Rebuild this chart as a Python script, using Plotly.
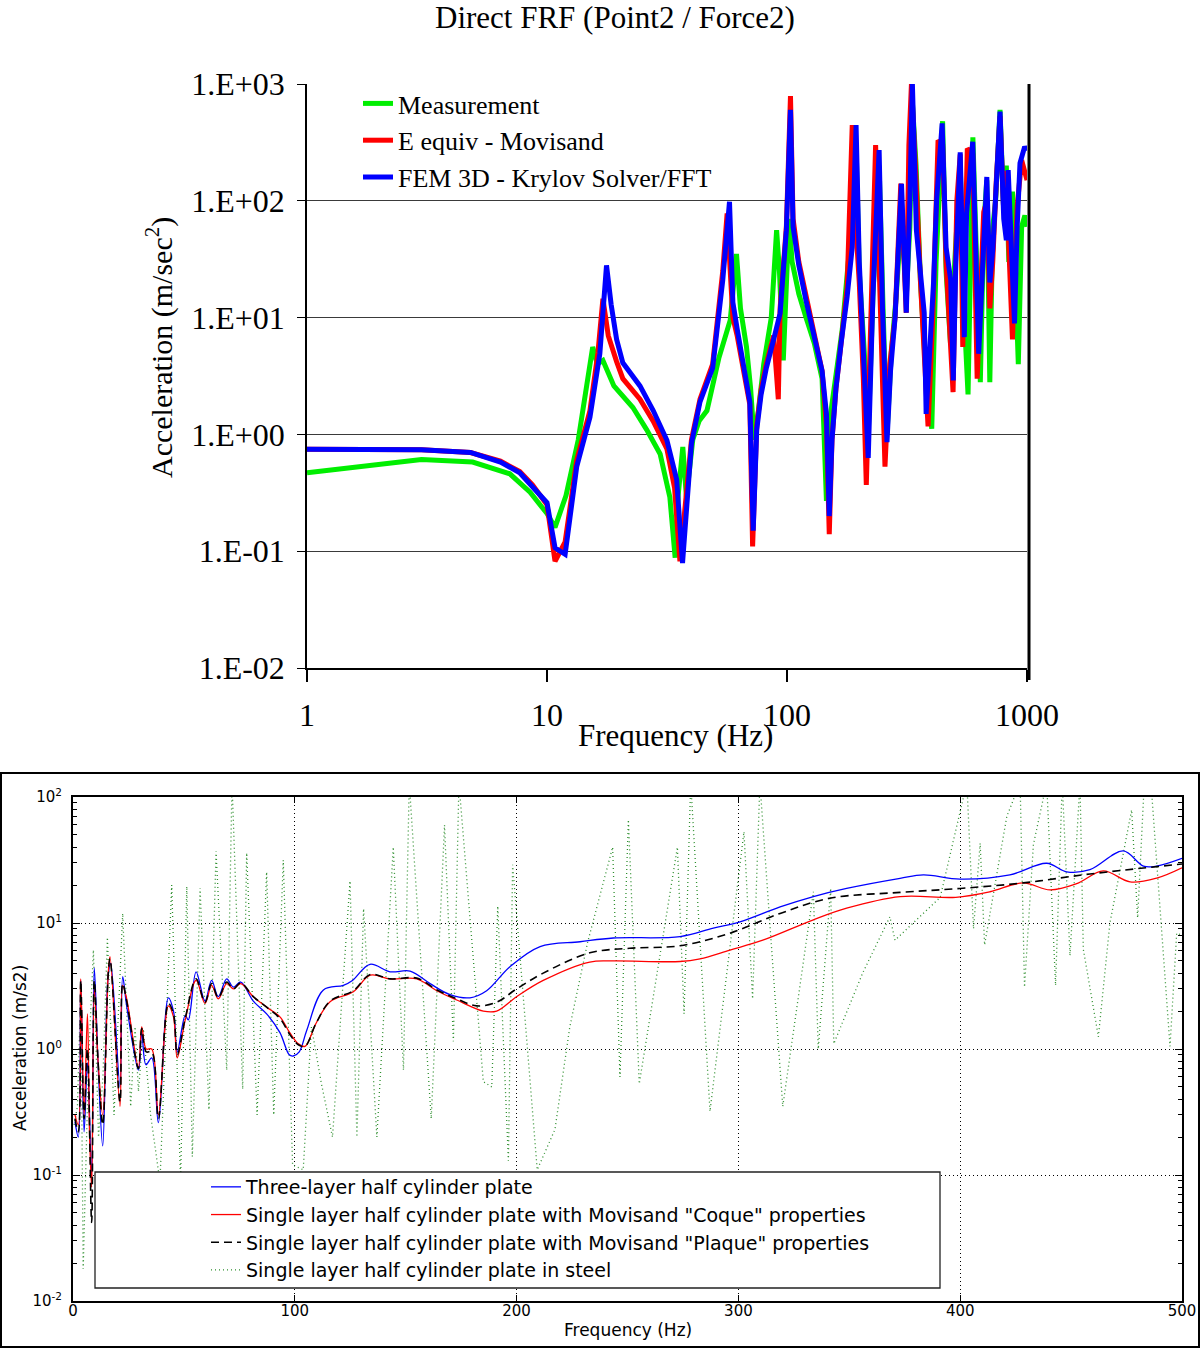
import plotly.graph_objects as go

# ---------------- Top chart: Direct FRF (Point2 / Force2) ----------------
meas_freq = [1, 2.0, 3.0, 4.9, 7.0, 8.5, 10.0, 10.8, 12.0, 13.5, 15.5, 16.2, 17.1, 19.0, 22.8, 26.0,
             29.6, 32.5, 34.2, 35.2, 36.8, 38.1, 40.5, 43.0, 46.4, 52.0, 58.0, 61.6, 64.0, 67.8,
             70.5, 73.0, 76.0, 80.0, 86.0, 90.5, 93.0, 96.5, 99.0, 102.0, 105.0, 112.0, 120.0,
             130.0, 140.0, 146.0, 152.0, 160.0, 170.0, 180.0, 190.0, 194.0, 200.0, 210.0, 218.0,
             228.0, 242.0, 252.0, 261.0, 272.0, 285.0, 300.0, 314.0, 325.0, 333.0, 345.0, 360.0,
             380.0, 401.0, 418.0, 445.0, 460.0, 480.0, 500.0, 527.0, 548.0, 568.0, 595.0, 615.0,
             639.0, 660.0, 680.0, 700.0, 720.0, 740.0, 772.0, 800.0, 820.0, 840.0, 870.0, 920.0,
             950.0, 980.0, 1000.0]
meas_acc = [0.47, 0.55, 0.61, 0.58, 0.46, 0.32, 0.21, 0.16, 0.3, 0.9, 5.6, 4.0, 4.3, 2.6, 1.7, 1.1,
            0.68, 0.29, 0.088, 0.3, 0.78, 0.29, 0.9, 1.3, 1.6, 4.5, 9.5, 35, 12, 5.6,
            2.5, 0.9, 1.6, 4.0, 10, 56, 25, 4.3, 20, 70, 30, 16, 10,
            6, 3, 0.27, 1.5, 3, 8, 30, 60, 300, 25, 5, 1.0,
            15, 200, 10, 1.0, 5, 15, 80, 15, 60, 700, 200, 20,
            3, 1.12, 30, 480, 25, 6, 30, 200, 10, 2.2, 350, 30,
            2.8, 60, 150, 2.8, 60, 100, 600, 80, 200, 30, 120, 4.0,
            60, 75, 60]

equiv_freq = [1, 1.7, 3.0, 4.8, 6.4, 7.7, 8.7, 10.0, 10.8, 11.9, 13.3, 15.1, 16.3, 17.1, 18.0, 19.5,
              20.7, 24.4, 27.7, 31.6, 34.0, 35.8, 38.0, 40.0, 43.4, 49.0, 54.0, 56.3, 58.0, 59.5,
              62.0, 65.5, 70.0, 71.9, 74.8, 78.0, 82.0, 88.0, 92.0, 93.6, 99.4, 103.4, 106.0,
              112.0, 120.0, 130.0, 140.0, 146.0, 150.0, 154.0, 160.0, 168.0, 178.0, 187.0, 192.0,
              200.0, 208.0, 214.0, 224.0, 234.0, 245.0, 256.0, 268.0, 282.0, 298.0, 314.0, 322.0,
              330.0, 345.0, 360.0, 387.0, 405.0, 426.0, 445.0, 460.0, 475.0, 492.0, 510.0, 527.0,
              540.0, 564.0, 594.0, 620.0, 660.0, 680.0, 700.0, 720.0, 745.0, 772.0, 800.0, 820.0,
              840.0, 870.0, 910.0, 950.0, 1000.0]
equiv_acc = [0.745, 0.745, 0.74, 0.70, 0.59, 0.48, 0.37, 0.25, 0.082, 0.12, 0.6, 1.6, 5, 14.5, 7, 4.2,
             3.0, 2.0, 1.3, 0.75, 0.35, 0.082, 0.3, 0.9, 2.0, 4, 25, 78, 25, 10,
             7, 4, 1.8, 0.11, 1.2, 2.4, 4, 7, 2.0, 12, 60, 790, 70,
             30, 15, 7.5, 3.5, 1.2, 0.14, 0.9, 2.5, 6, 18, 445, 80,
             20, 3, 0.37, 12, 300, 12, 0.53, 4, 10, 140, 11, 300,
             1000, 150, 20, 1.17, 10, 330, 300, 30, 8, 2.3, 100, 250,
             5.6, 280, 250, 3.0, 80, 100, 12, 30, 150, 530, 80, 180,
             40, 6.5, 90, 223, 150]

fem_freq = [1, 1.7, 3.0, 4.8, 6.4, 7.7, 8.7, 10.0, 10.8, 11.9, 13.3, 15.1, 16.6, 17.7, 18.5, 19.5,
            20.7, 24.4, 27.7, 31.6, 34.7, 36.7, 40.0, 43.4, 49.0, 54.0, 57.6, 59.5, 62.0, 65.5,
            70.0, 72.3, 74.8, 78.0, 82.0, 88.0, 93.6, 99.4, 103.4, 106.0, 112.0, 120.0, 130.0,
            140.0, 146.0, 150.0, 154.0, 160.0, 168.0, 178.0, 187.0, 194.0, 200.0, 208.0, 218.0,
            228.0, 242.0, 250.0, 261.0, 270.0, 282.0, 300.0, 314.0, 325.0, 333.0, 346.0, 362.0,
            373.0, 380.0, 408.0, 420.0, 443.0, 460.0, 481.0, 493.0, 505.0, 527.0, 548.0, 560.0,
            594.0, 629.0, 660.0, 680.0, 700.0, 720.0, 745.0, 772.0, 800.0, 820.0, 835.0, 860.0,
            887.0, 910.0, 935.0, 978.0, 1000.0]
fem_acc = [0.745, 0.745, 0.74, 0.70, 0.58, 0.47, 0.36, 0.26, 0.107, 0.094, 0.53, 1.4, 4.9, 28, 13, 6.5,
           4.1, 2.6, 1.6, 0.89, 0.41, 0.079, 0.84, 1.9, 3.7, 21, 98, 13.5, 8, 4.3,
           1.9, 0.15, 1.1, 2.2, 3.7, 6.5, 10.9, 56, 600, 60, 28, 14, 7,
           3.5, 1.5, 0.2, 0.9, 2.5, 6, 15, 40, 445, 30, 4, 0.63,
           15, 272, 12, 0.86, 3.5, 10, 140, 11, 100, 1000, 56, 21,
           11, 1.5, 20, 100, 460, 40, 21, 2.9, 29, 260, 6.8, 78,
           320, 4.9, 56, 160, 20, 38, 140, 580, 70, 46, 183, 40,
           8.9, 60, 210, 290, 270]

top_y_tickvals = [0.01, 0.1, 1, 10, 100, 1000]
top_y_ticktext = ["1.E-02", "1.E-01", "1.E+00", "1.E+01", "1.E+02", "1.E+03"]
top_x_tickvals = [1, 10, 100, 1000]
top_x_ticktext = ["1", "10", "100", "1000"]

# ---------------- Bottom chart ----------------
three_freq = [0.9, 2.4, 3.5, 5.0, 6.5, 8.4, 9.6, 11.3, 13.4, 15.9, 17.0, 21.2, 22.4, 24.2, 29.5, 31.0,
              32.9, 35.5, 38.5, 43.0, 45.3, 47.0, 50.6, 52.0, 55.5, 59.5, 62.5, 65.5, 69.3, 72.3,
              75.6, 81.3, 87.3, 93.3, 97.5, 99.3, 102.0, 105.4, 112.9, 121.9, 126.0, 133.9, 143.0,
              152.0, 161.0, 170.0, 179.0, 186.5, 197.0, 210.6, 228.6, 243.6, 273.7, 288.7, 300.7,
              318.8, 333.8, 348.8, 372.9, 383.4, 399.9, 422.4, 439.0, 448.0, 458.5, 473.5, 482.6,
              488.6, 500.0]
three_acc = [0.265, 0.2, 3.5, 0.22, 0.78, 0.1, 4.4, 0.78, 0.17, 3.9, 4.8, 0.5, 3.75, 2.2, 0.68, 1.35,
             0.75, 0.85, 0.26, 2.55, 2.0, 0.95, 1.85, 1.7, 4.1, 2.4, 3.5, 2.6, 3.6, 3.1,
             3.4, 2.4, 1.9, 1.35, 0.9, 0.88, 0.95, 1.41, 2.94, 3.2, 3.5, 4.7, 4.1,
             4.15, 3.3, 2.7, 2.55, 2.9, 4.5, 6.5, 7.1, 7.6, 7.8, 9.1, 10.2,
             13.4, 16.2, 18.8, 22.6, 24.1, 22.3, 24.1, 29.8, 25.5, 26.5, 37.3, 28.3,
             28.3, 32.6]

coque_freq = [0.9, 2.4, 3.5, 5.0, 6.5, 7.5, 8.4, 9.6, 11.3, 13.4, 15.9, 16.7, 21.2, 22.4, 24.2, 29.5,
              31.0, 33.0, 35.5, 38.5, 43.0, 45.3, 47.0, 50.6, 55.5, 59.5, 62.5, 65.5, 69.3, 72.3,
              75.6, 81.3, 87.3, 93.3, 97.8, 101.6, 104.6, 109.6, 115.9, 126.4, 134.0, 143.0, 155.0,
              164.0, 173.0, 185.0, 191.0, 200.0, 212.0, 233.0, 243.6, 273.7, 282.7, 296.2, 311.0,
              333.8, 348.8, 372.9, 398.0, 413.4, 428.4, 440.5, 452.5, 464.5, 476.6, 488.6, 500.0]
coque_acc = [0.3, 0.25, 3.6, 0.3, 1.9, 0.2, 0.08, 3.0, 0.8, 0.3, 4.0, 5.4, 0.35, 3.2, 2.5, 0.72,
             1.5, 1.0, 1.0, 0.3, 2.2, 1.8, 0.85, 1.7, 3.5, 2.3, 3.2, 2.5, 3.3, 3.0,
             3.3, 2.6, 2.15, 1.8, 1.34, 1.1, 1.05, 1.6, 2.37, 2.85, 3.85, 3.6, 3.6,
             2.9, 2.45, 2.0, 2.0, 2.6, 3.5, 4.9, 5.0, 4.95, 5.2, 6.1, 7.3,
             10.6, 13.1, 16.2, 16.0, 17.7, 20.8, 18.3, 20.5, 25.9, 21.2, 22.7, 27.4]

plaque_freq = [0.9, 2.4, 3.5, 5.0, 6.5, 8.4, 9.6, 11.3, 13.4, 15.9, 16.7, 21.2, 22.4, 24.2, 29.5, 31.0,
               33.0, 35.5, 38.5, 43.0, 45.3, 47.0, 50.6, 55.5, 59.5, 62.5, 65.5, 69.3, 72.3, 75.6,
               81.3, 87.3, 93.3, 97.8, 101.6, 104.6, 109.6, 115.9, 126.4, 134.0, 143.0, 155.0, 164.0,
               173.0, 182.0, 191.0, 200.0, 212.0, 233.0, 251.0, 273.7, 296.2, 318.8, 341.0, 372.9,
               400.0, 428.4, 458.5, 500.0]
plaque_acc = [0.28, 0.22, 3.5, 0.28, 1.0, 0.042, 3.5, 0.8, 0.25, 4.0, 5.2, 0.38, 3.3, 2.4, 0.7, 1.45,
              0.95, 0.95, 0.28, 2.3, 1.9, 0.9, 1.75, 3.6, 2.35, 3.3, 2.55, 3.4, 3.0, 3.35,
              2.6, 2.15, 1.75, 1.3, 1.08, 1.05, 1.6, 2.4, 2.9, 3.9, 3.6, 3.65, 2.95,
              2.5, 2.2, 2.35, 3.0, 4.0, 5.8, 6.3, 6.6, 8.3, 11.9, 15.7, 17.5,
              18.8, 20.8, 24.5, 29.4]

steel_freq = [0.5, 2.0, 3.5, 4.6, 7.0, 9.2, 11.5, 13.5, 15.5, 18.5, 22.4, 26.0, 28.0, 29.5, 31.7, 35.0,
              39.2, 44.5, 48.5, 51.3, 53.8, 57.3, 61.3, 64.5, 69.3, 71.7, 76.5, 78.3, 83.0, 87.3,
              90.5, 94.8, 99.0, 103.8, 107.5, 112.0, 117.0, 124.9, 128.0, 131.0, 137.0, 144.4, 149.0,
              151.6, 161.5, 167.5, 171.5, 174.0, 185.0, 188.8, 191.5, 196.3, 198.2, 209.3, 217.3,
              224.0, 232.0, 243.3, 246.6, 250.4, 255.3, 272.5, 275.5, 278.5, 287.2, 302.5, 306.4,
              309.7, 320.0, 333.8, 336.0, 341.6, 343.0, 356.0, 368.3, 370.6, 391.0, 403.0, 406.0,
              409.0, 411.0, 421.0, 427.0, 429.0, 433.0, 439.0, 443.0, 446.0, 449.5, 454.0, 455.5,
              462.3, 467.5, 477.3, 480.0, 483.0, 486.0, 494.6, 497.6, 500.0]
steel_acc = [0.25, 0.35, 3.0, 0.018, 0.8, 6.1, 0.2, 0.6, 7.7, 0.3, 11.9, 0.35, 1.5, 0.46, 1.44, 0.3,
             0.088, 20, 0.088, 19.5, 0.14, 18.9, 0.33, 37, 0.68, 130, 0.48, 36, 0.3, 25.4,
             0.3, 31.6, 0.12, 0.11, 1.5, 0.53, 0.2, 21.6, 0.2, 13, 0.2, 40, 0.68,
             130, 0.28, 60, 1.15, 130, 0.55, 0.5, 13.6, 0.13, 29, 0.11, 0.23,
             1.5, 7.0, 40, 0.6, 66, 0.53, 40, 1.9, 130, 0.32, 53, 2.5,
             130, 0.35, 17.7, 1.0, 18.8, 1.1, 4.0, 11.2, 7.3, 16, 130, 9,
             43, 6.7, 70, 130, 3.1, 42, 130, 3.2, 130, 5.5, 130, 6.2,
             1.25, 10, 79, 11, 130, 130, 1.05, 8.3, 8.0]

bot_y_tickvals = [0.01, 0.1, 1, 10, 100]
bot_y_ticktext = ["10<sup>-2</sup>", "10<sup>-1</sup>", "10<sup>0</sup>", "10<sup>1</sup>", "10<sup>2</sup>"]
bot_x_tickvals = [0, 100, 200, 300, 400, 500]
bot_y_minor = [m * 10.0 ** e for e in range(-2, 2) for m in range(2, 10)]

W, H = 1200, 1348
SERIF = "Liberation Serif, Times New Roman, serif"
SANS = "DejaVu Sans, Verdana, sans-serif"


def px_x(p):
    return min(max(p / W, 0.0), 1.0)


def px_y(p):
    return min(max(1 - p / H, 0.0), 1.0)


fig = go.Figure()

# top traces
fig.add_trace(go.Scatter(x=meas_freq, y=meas_acc, mode="lines", name="Measurement",
                         line=dict(color="#00ee00", width=5), xaxis="x", yaxis="y", legend="legend"))
fig.add_trace(go.Scatter(x=equiv_freq, y=equiv_acc, mode="lines", name="E equiv - Movisand",
                         line=dict(color="#ff0000", width=5), xaxis="x", yaxis="y", legend="legend"))
fig.add_trace(go.Scatter(x=fem_freq, y=fem_acc, mode="lines", name="FEM 3D - Krylov Solver/FFT",
                         line=dict(color="#0000ff", width=5), xaxis="x", yaxis="y", legend="legend"))

# bottom traces
fig.add_trace(go.Scatter(x=steel_freq, y=steel_acc, mode="lines",
                         name="Single layer half cylinder plate in steel",
                         line=dict(color="#2f8f2f", width=1.3, dash="1px,3px"),
                         xaxis="x2", yaxis="y2", legend="legend2", legendrank=4))
fig.add_trace(go.Scatter(x=three_freq, y=three_acc, mode="lines", line_shape="spline",
                         name="Three-layer half cylinder plate",
                         line=dict(color="#0000ff", width=1.3),
                         xaxis="x2", yaxis="y2", legend="legend2", legendrank=1))
fig.add_trace(go.Scatter(x=coque_freq, y=coque_acc, mode="lines", line_shape="spline",
                         name='Single layer half cylinder plate with Movisand "Coque" properties',
                         line=dict(color="#ff0000", width=1.3),
                         xaxis="x2", yaxis="y2", legend="legend2", legendrank=2))
fig.add_trace(go.Scatter(x=plaque_freq, y=plaque_acc, mode="lines", line_shape="spline",
                         name='Single layer half cylinder plate with Movisand "Plaque" properties',
                         line=dict(color="#000000", width=1.6, dash="8px,5px"),
                         xaxis="x2", yaxis="y2", legend="legend2", legendrank=3))

fig.update_layout(
    width=W, height=H,
    margin=dict(l=0, r=0, t=0, b=0, pad=0, autoexpand=False),
    paper_bgcolor="white", plot_bgcolor="white",
    showlegend=True,
    xaxis=dict(domain=[px_x(307), px_x(1027)], anchor="y", type="log", range=[0, 3], automargin=False,
               tickmode="array", tickvals=top_x_tickvals, ticktext=top_x_ticktext,
               ticks="outside", ticklen=12, tickwidth=1.5, tickcolor="black",
               showline=True, linecolor="black", linewidth=1.5, showgrid=False, zeroline=False,
               tickfont=dict(family=SERIF, size=32, color="black"), ticklabelstandoff=6),
    yaxis=dict(domain=[px_y(668), px_y(84)], anchor="x", type="log", range=[-2, 3], automargin=False,
               tickmode="array", tickvals=top_y_tickvals, ticktext=top_y_ticktext,
               ticks="outside", ticklen=8, tickwidth=1.2, tickcolor="black",
               showline=True, linecolor="black", linewidth=1.5,
               showgrid=True, gridcolor="#3a3a3a", gridwidth=1.2, zeroline=False,
               tickfont=dict(family=SERIF, size=32, color="black"), ticklabelstandoff=6),
    xaxis2=dict(domain=[px_x(73), px_x(1182)], anchor="y2", range=[0, 500], automargin=False,
                tickmode="array", tickvals=bot_x_tickvals,
                ticks="inside", ticklen=6, tickcolor="black",
                showline=True, linecolor="black", linewidth=2, mirror="ticks",
                showgrid=True, gridcolor="black", gridwidth=1, griddash="1px,3px", zeroline=False,
                tickfont=dict(family=SANS, size=15, color="black"), ticklabelstandoff=-5),
    yaxis2=dict(domain=[px_y(1301), px_y(797)], anchor="x2", type="log", range=[-2, 2], automargin=False,
                tickmode="array", tickvals=bot_y_tickvals, ticktext=bot_y_ticktext,
                ticks="inside", ticklen=7, tickcolor="black",
                minor=dict(tickmode="array", tickvals=bot_y_minor, ticks="inside", ticklen=4,
                           tickcolor="black", showgrid=False),
                showline=True, linecolor="black", linewidth=2, mirror="ticks",
                showgrid=True, gridcolor="black", gridwidth=1, griddash="1px,3px", zeroline=False,
                tickfont=dict(family=SANS, size=15, color="black"), ticklabelstandoff=6),
    legend=dict(x=px_x(358), y=px_y(80), xanchor="left", yanchor="top",
                bgcolor="rgba(0,0,0,0)", borderwidth=0,
                font=dict(family=SERIF, size=26, color="black")),
    legend2=dict(x=px_x(206), y=px_y(1168), xanchor="left", yanchor="top",
                 bgcolor="rgba(0,0,0,0)", borderwidth=0, traceorder="normal",
                 font=dict(family=SANS, size=19, color="black")),
    shapes=[
        # thick right border of top chart
        dict(type="line", xref="paper", yref="paper", x0=px_x(1029), x1=px_x(1029),
             y0=px_y(680), y1=px_y(84), line=dict(color="black", width=3)),
        # outer frame of bottom chart
        dict(type="rect", xref="paper", yref="paper", x0=px_x(1), x1=px_x(1199),
             y0=px_y(1347), y1=px_y(773), line=dict(color="black", width=2),
             fillcolor="rgba(0,0,0,0)"),
        # legend box of bottom chart
        dict(type="rect", xref="paper", yref="paper", x0=px_x(95), x1=px_x(940),
             y0=px_y(1288), y1=px_y(1172), line=dict(color="#222222", width=1.3),
             fillcolor="white", layer="above"),
    ],
    annotations=[
        dict(text="Direct FRF (Point2 / Force2)", x=px_x(615), y=px_y(17), xref="paper", yref="paper",
             showarrow=False, xanchor="center", yanchor="middle",
             font=dict(family=SERIF, size=31, color="black")),
        dict(text="Frequency (Hz)", x=px_x(675), y=px_y(735), xref="paper", yref="paper",
             showarrow=False, xanchor="center", yanchor="middle",
             font=dict(family=SERIF, size=31, color="black")),
        dict(text="Acceleration (m/sec<sup>2</sup>)", x=px_x(160), y=px_y(348), xref="paper", yref="paper",
             showarrow=False, xanchor="center", yanchor="middle", textangle=-90,
             font=dict(family=SERIF, size=30, color="black")),
        dict(text="Frequency (Hz)", x=px_x(628), y=px_y(1330), xref="paper", yref="paper",
             showarrow=False, xanchor="center", yanchor="middle",
             font=dict(family=SANS, size=17, color="black")),
        dict(text="Acceleration (m/s2)", x=px_x(20), y=px_y(1048), xref="paper", yref="paper",
             showarrow=False, xanchor="center", yanchor="middle", textangle=-90,
             font=dict(family=SANS, size=17, color="black")),
    ],
)

fig.write_html("out.html")
